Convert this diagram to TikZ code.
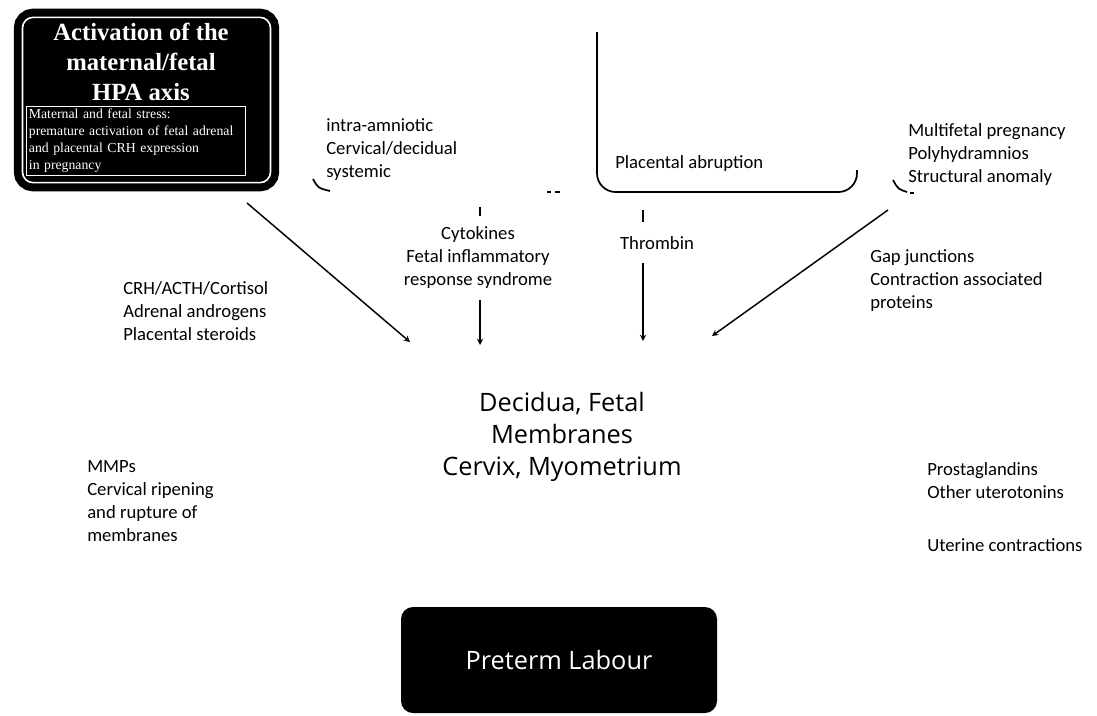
\documentclass[tikz,border=0pt]{standalone}
\usepackage{fontspec}
\setmainfont{Carlito}
\newfontfamily\widefont{Open Sans}
\newfontfamily\titlefont{Liberation Serif}
\usepackage{tikz}
\usetikzlibrary{arrows,positioning}

\begin{document}
\begin{tikzpicture}[
    x=0.75pt, y=-0.75pt,
    txt/.style={align=left, anchor=west, inner sep=0pt, font=\fontsize{14}{17.25}\selectfont},
    ctxt/.style={align=center, inner sep=0pt, font=\fontsize{14}{17.25}\selectfont},
    darkbox/.style={rectangle, rounded corners=8pt, fill=black, draw=white, line width=1.2pt,
        preaction={draw=black, line width=13pt}},
    endbox/.style={rectangle, rounded corners=9pt, fill=black, text=white,
        minimum width=237pt, minimum height=79.5pt, font=\widefont\fontsize{19}{23}\selectfont},
    arrow/.style={->, >=stealth, line width=1.1pt},
    frag/.style={line width=1.3pt}
]
    \useasboundingbox (0,0) rectangle (1097,715);

    % HPA axis box, top left
    \node[darkbox, minimum width=186pt, minimum height=124pt] (hpa) at (146.5,100) {};
    \node[text=white, align=center, font=\titlefont\bfseries\fontsize{18.5}{22.5}\selectfont] (hpatitle) at (141,62) {Activation of the\\maternal/fetal\\HPA axis};
    \node[draw=white, thin, text=white, align=left, inner sep=2pt, anchor=north west, text width=160pt,
        font=\titlefont\fontsize{10.3}{12.75}\selectfont] (hpasub) at (26,106) {Maternal and fetal stress:\\premature activation of fetal adrenal\\and placental CRH expression\\in pregnancy};

    % causes along the top
    \node[txt] (infect) at (326,150) {intra-amniotic\\Cervical/decidual\\systemic};
    \draw[frag] (313,179) .. controls (318,188) .. (330,191);
    \draw[frag] (547,192) -- (551,192) (555,192) -- (560,192);

    \node[txt] (abrupt) at (615,164) {Placental abruption};
    \draw[frag, rounded corners=14pt] (597,32) -- (597,192) -- (857,192) -- (857,170);

    \node[txt] (multi) at (908,155) {Multifetal pregnancy\\Polyhydramnios\\Structural anomaly};
    \draw[frag] (893,180) .. controls (898,189) .. (907,192);
    \draw[frag] (910,193) -- (914,193);

    % mediators
    \node[ctxt] (cyto) at (478,258) {Cytokines\\Fetal inflammatory\\response syndrome};
    \node[ctxt] (throm) at (657,243) {Thrombin};
    \node[txt] (crh) at (123,311) {CRH/ACTH/Cortisol\\Adrenal androgens\\Placental steroids};
    \node[txt] (gap) at (870,281) {Gap junctions\\Contraction associated\\proteins};

    % target tissues
    \node[align=center, font=\widefont\fontsize{19}{24}\selectfont] (tissue) at (562,437) {Decidua, Fetal\\Membranes\\Cervix, Myometrium};
    \node[txt] (mmp) at (87,501) {MMPs\\Cervical ripening\\and rupture of\\membranes};
    \node[txt] (prosta) at (927,507) {Prostaglandins\\Other uterotonins\\[22pt]Uterine contractions};

    \node[endbox] (ptl) at (559,660) {Preterm Labour};

    % connectors
    \coordinate (hpaout) at (247,203);
    \coordinate (hpaend) at (410,342);
    \coordinate (cytoin) at (480,207);
    \coordinate (cytoout) at (480,300);
    \coordinate (cytoend) at (480,345);
    \coordinate (thromin) at (643,210);
    \coordinate (thromout) at (643,263);
    \coordinate (thromend) at (643,341);
    \coordinate (multiout) at (888,210);
    \coordinate (multiend) at (712,336);

    \draw[frag] (cytoin) -- ++(0,9);
    \draw[frag] (thromin) -- ++(0,12);
    \draw[arrow] (hpaout) -- (hpaend);
    \draw[arrow] (cytoout) -- (cytoend);
    \draw[arrow] (thromout) -- (thromend);
    \draw[arrow] (multiout) -- (multiend);
\end{tikzpicture}
\end{document}
